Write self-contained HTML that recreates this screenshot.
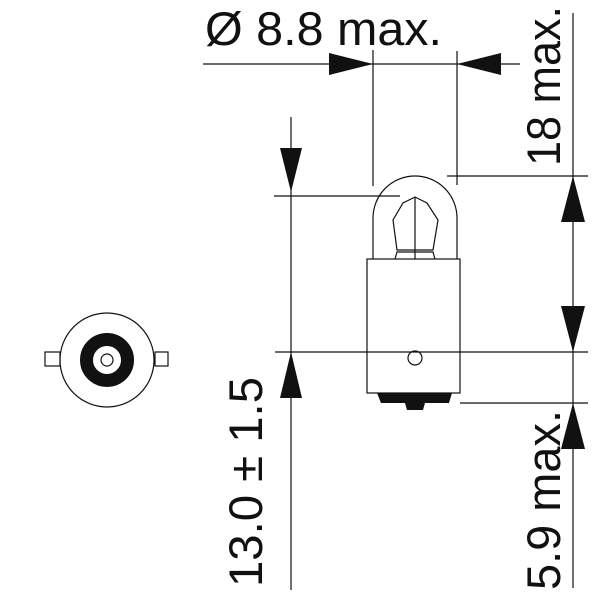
<!DOCTYPE html>
<html><head><meta charset="utf-8"><style>
html,body{margin:0;padding:0;background:#fff;}
svg{display:block;}
text{font-family:"Liberation Sans",sans-serif;font-size:47px;fill:#111;}
</style></head><body>
<svg width="607" height="607" viewBox="0 0 607 607" xmlns="http://www.w3.org/2000/svg">
<g stroke="#111" stroke-width="1.2" fill="none">
<!-- top dimension -->
<line x1="203" y1="64" x2="520" y2="64"/>
<line x1="373" y1="50" x2="373" y2="186"/>
<line x1="457" y1="51" x2="457" y2="185"/>
<!-- right vertical -->
<line x1="573" y1="13" x2="573" y2="588"/>
<line x1="447" y1="176" x2="588" y2="176"/>
<line x1="275" y1="352" x2="588" y2="352"/>
<line x1="460" y1="403" x2="588" y2="403"/>
<!-- left vertical -->
<line x1="291" y1="117" x2="291" y2="590"/>
<line x1="274" y1="196" x2="400" y2="196"/>
<!-- bulb glass -->
<path d="M373 259 L373 218 A42 42 0 0 1 457 218 L457 259"/>
<!-- filament -->
<path d="M415 197 L427 203 L438 220 L433 250 L397 250 L393 220 L403 203 Z"/>
<line x1="415" y1="197" x2="415" y2="259"/>
<path d="M395 259 L397 252 L433 252 L435 259"/>
<!-- base -->
<rect x="367" y="259" width="93" height="134"/>
<circle cx="415" cy="358" r="7"/>
<!-- left view -->
<circle cx="107" cy="360" r="47"/>
<circle cx="107" cy="360" r="6"/>
<rect x="45" y="352" width="15" height="14"/>
<rect x="155" y="352" width="13" height="14"/>
</g>
<circle cx="107" cy="360" r="20.5" fill="none" stroke="#111" stroke-width="13"/>
<g fill="#111">
<path d="M377 393 L452 393 L449 403 L425 403 L423 410 L407 410 L405 403 L381 403 Z"/>
<!-- arrows -->
<polygon points="373,64 329,53 329,75"/>
<polygon points="457,64 501,53 501,75"/>
<polygon points="291,192 280,148 302,148"/>
<polygon points="291,352 280,398 302,398"/>
<polygon points="573,176 561,222 585,222"/>
<polygon points="573,352 561,306 585,306"/>
<polygon points="573,403 561,449 585,449"/>
</g>
<text x="205" y="45" textLength="237" lengthAdjust="spacingAndGlyphs">Ø 8.8 max.</text>
<text transform="translate(560,166) rotate(-90)" textLength="160" lengthAdjust="spacingAndGlyphs">18 max.</text>
<text transform="translate(560,590) rotate(-90)" textLength="180" lengthAdjust="spacingAndGlyphs">5.9 max.</text>
<text transform="translate(262,587) rotate(-90)" textLength="210" lengthAdjust="spacingAndGlyphs">13.0 ± 1.5</text>
</svg>
</body></html>
